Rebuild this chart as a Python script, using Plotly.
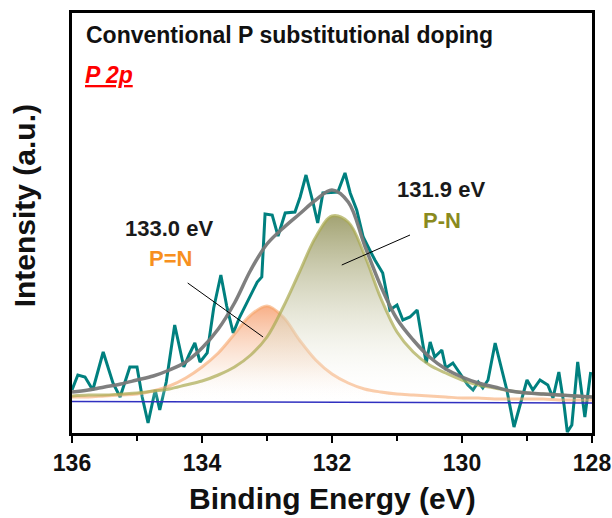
import plotly.graph_objects as go

# ---------------- data ----------------
# raw P 2p spectrum (binding energy eV, intensity a.u.)
raw_energy = [136.00, 135.91, 135.80, 135.68, 135.52, 135.37, 135.26, 135.11, 135.00, 134.92,
              134.83, 134.72, 134.65, 134.55, 134.42, 134.28, 134.20, 134.11, 134.03, 133.92,
              133.82, 133.71, 133.62, 133.52, 133.42, 133.31, 133.15, 133.08, 133.03, 132.92,
              132.83, 132.72, 132.57, 132.49, 132.40, 132.29, 132.22, 132.14, 131.98, 131.91,
              131.80, 131.72, 131.62, 131.52, 131.42, 131.34, 131.22, 131.11, 131.00, 130.91,
              130.80, 130.69, 130.60, 130.55, 130.49, 130.42, 130.31, 130.25, 130.14, 130.03,
              129.91, 129.83, 129.75, 129.68, 129.60, 129.49, 129.38, 129.31, 129.20, 129.11,
              129.00, 128.91, 128.80, 128.68, 128.60, 128.51, 128.43, 128.38, 128.31, 128.22,
              128.11, 128.02]
raw_intensity = [43, 58, 56, 43, 81, 50, 36, 66, 66, 36,
                 10, 43, 23, 51, 108, 66, 78, 90, 71, 80,
                 125, 158, 127, 100, 116, 130, 151, 156, 219, 218,
                 197, 220, 221, 236, 258, 230, 210, 240, 241, 241,
                 260, 240, 223, 196, 183, 173, 160, 123, 128, 113,
                 116, 123, 88, 70, 91, 76, 83, 65, 70, 60,
                 48, 43, 51, 45, 53, 90, 60, 43, 6, 28,
                 53, 43, 53, 48, 35, 61, 28, 1, 8, 71,
                 16, 61]

# fitted curves sampled on an energy grid
fit_energy = [136.00, 135.75, 135.50, 135.25, 135.00, 134.75, 134.50, 134.25, 134.00, 133.75,
              133.50, 133.25, 133.00, 132.75, 132.50, 132.25, 132.00, 131.75, 131.50, 131.25,
              131.00, 130.75, 130.50, 130.25, 130.00, 129.75, 129.50, 129.25, 129.00, 128.75,
              128.50, 128.25, 128.00]
pn_double = [36, 36, 37, 38, 39, 42, 47, 55, 66, 80,
             99, 118, 127, 116, 93, 73, 59, 50, 44, 41,
             39, 38, 37, 36, 35, 35, 34, 34, 34, 34,
             33, 33, 33]
pn_single = [37, 38, 38, 39, 40, 42, 44, 48, 52, 58,
             66, 78, 96, 126, 161, 196, 217, 211, 178, 135,
             101, 81, 68, 60, 53, 48, 45, 42, 40, 39,
             38, 37, 36]
envelope = [41, 43, 46, 49, 53, 57, 63, 71, 85, 104,
            130, 163, 189, 205, 219, 233, 243, 231, 188, 147,
            114, 93, 76, 64, 56, 50, 46, 42, 40, 39,
            38, 37, 36]
baseline_energy = [136.0, 128.0]
baseline_intensity = [31.5, 30.0]

# peak labels and leader lines
label_133 = dict(energy=134.51, intensity=205, text="133.0 eV")
label_pn2 = dict(energy=134.49, intensity=175, text="P=N")
label_131 = dict(energy=130.32, intensity=244, text="131.9 eV")
label_pn1 = dict(energy=130.31, intensity=213, text="P-N")
leader_133 = dict(e0=134.22, i0=150, e1=133.06, i1=96)
leader_131 = dict(e0=131.85, i0=168, e1=130.80, i1=198)

x_ticks = [136, 134, 132, 130, 128]

# ---------------- figure ----------------
FONT = "Liberation Sans, Arial, sans-serif"
teal = "#00807f"
orange_line = "rgba(246,165,105,0.6)"
olive_line = "rgba(170,170,80,0.7)"

fig = go.Figure()

fig.add_trace(go.Scatter(x=raw_energy, y=raw_intensity, mode="lines",
                         line=dict(color=teal, width=3), showlegend=False))

# P=N component
fig.add_trace(go.Scatter(x=baseline_energy, y=baseline_intensity, mode="lines",
                         line=dict(width=0), showlegend=False, hoverinfo="skip"))
fig.add_trace(go.Scatter(x=fit_energy, y=pn_double, mode="lines", line_shape="spline",
                         line=dict(color=orange_line, width=3), fill="tonexty",
                         fillgradient=dict(type="vertical",
                                           colorscale=[[0, "rgba(255,255,255,0.0)"],
                                                       [0.4, "rgba(250,220,200,0.5)"],
                                                       [1, "rgba(246,155,105,0.8)"]]),
                         showlegend=False))
# P-N component
fig.add_trace(go.Scatter(x=baseline_energy, y=baseline_intensity, mode="lines",
                         line=dict(width=0), showlegend=False, hoverinfo="skip"))
fig.add_trace(go.Scatter(x=fit_energy, y=pn_single, mode="lines", line_shape="spline",
                         line=dict(color=olive_line, width=3), fill="tonexty",
                         fillgradient=dict(type="vertical",
                                           colorscale=[[0, "rgba(255,255,255,0.0)"],
                                                       [0.4, "rgba(220,220,198,0.5)"],
                                                       [1, "rgba(140,140,80,0.8)"]]),
                         showlegend=False))
# background line
fig.add_trace(go.Scatter(x=baseline_energy, y=baseline_intensity, mode="lines",
                         line=dict(color="#3030c0", width=1.5), showlegend=False))
# envelope
fig.add_trace(go.Scatter(x=fit_energy, y=envelope, mode="lines", line_shape="spline",
                         line=dict(color="rgba(120,120,120,0.95)", width=3.5), showlegend=False))

annotations = [
    dict(x=label_133["energy"], y=label_133["intensity"], text=label_133["text"],
         font=dict(color="#1a1a1a", size=22, family=FONT, weight="bold")),
    dict(x=label_pn2["energy"], y=label_pn2["intensity"], text=label_pn2["text"],
         font=dict(color="#f7901e", size=22, family=FONT, weight="bold")),
    dict(x=label_131["energy"], y=label_131["intensity"], text=label_131["text"],
         font=dict(color="#1a1a1a", size=22, family=FONT, weight="bold")),
    dict(x=label_pn1["energy"], y=label_pn1["intensity"], text=label_pn1["text"],
         font=dict(color="#8a8a1e", size=22, family=FONT, weight="bold")),
    dict(xref="paper", yref="paper", x=0.024, y=0.948, xanchor="left", yanchor="middle",
         text="Conventional P substitutional doping",
         font=dict(color="#111111", size=23, family=FONT, weight="bold")),
    dict(xref="paper", yref="paper", x=0.021, y=0.852, xanchor="left", yanchor="middle",
         text="<u><i>P 2p</i></u>",
         font=dict(color="#ff0000", size=23, family=FONT, weight="bold")),
    dict(xref="paper", yref="paper", x=0.5, y=-0.157, xanchor="center", yanchor="middle",
         text="Binding Energy (eV)",
         font=dict(color="#111111", size=30, family=FONT, weight="bold")),
    dict(xref="paper", yref="paper", x=-0.092, y=0.54, xanchor="center", yanchor="middle",
         textangle=-90, text="Intensity (a.u.)",
         font=dict(color="#111111", size=30, family=FONT, weight="bold")),
]
for a in annotations:
    a.setdefault("showarrow", False)
    a.setdefault("xref", "x")
    a.setdefault("yref", "y")
fig.update_layout(annotations=annotations)

for ld in (leader_133, leader_131):
    fig.add_shape(type="line", x0=ld["e0"], y0=ld["i0"], x1=ld["e1"], y1=ld["i1"],
                  xref="x", yref="y", line=dict(color="black", width=1))

fig.update_xaxes(range=[136, 128], tickvals=x_ticks, ticks="outside", ticklen=7, tickwidth=2,
                 tickcolor="black", showline=True, mirror=True, linewidth=3, linecolor="black",
                 showgrid=False, zeroline=False, automargin=False,
                 tickfont=dict(size=23, family=FONT, color="#111111", weight="bold"),
                 minor=dict(dtick=1, ticks="outside", ticklen=5, tickwidth=2, tickcolor="black",
                            showgrid=False))
fig.update_yaxes(range=[0, 420], showticklabels=False, ticks="", showline=True, mirror=True,
                 linewidth=3, linecolor="black", showgrid=False, zeroline=False, automargin=False)

fig.update_layout(width=612, height=518, margin=dict(l=72, r=20, t=13, b=85),
                  paper_bgcolor="white", plot_bgcolor="white")

fig.write_html("out.html")
